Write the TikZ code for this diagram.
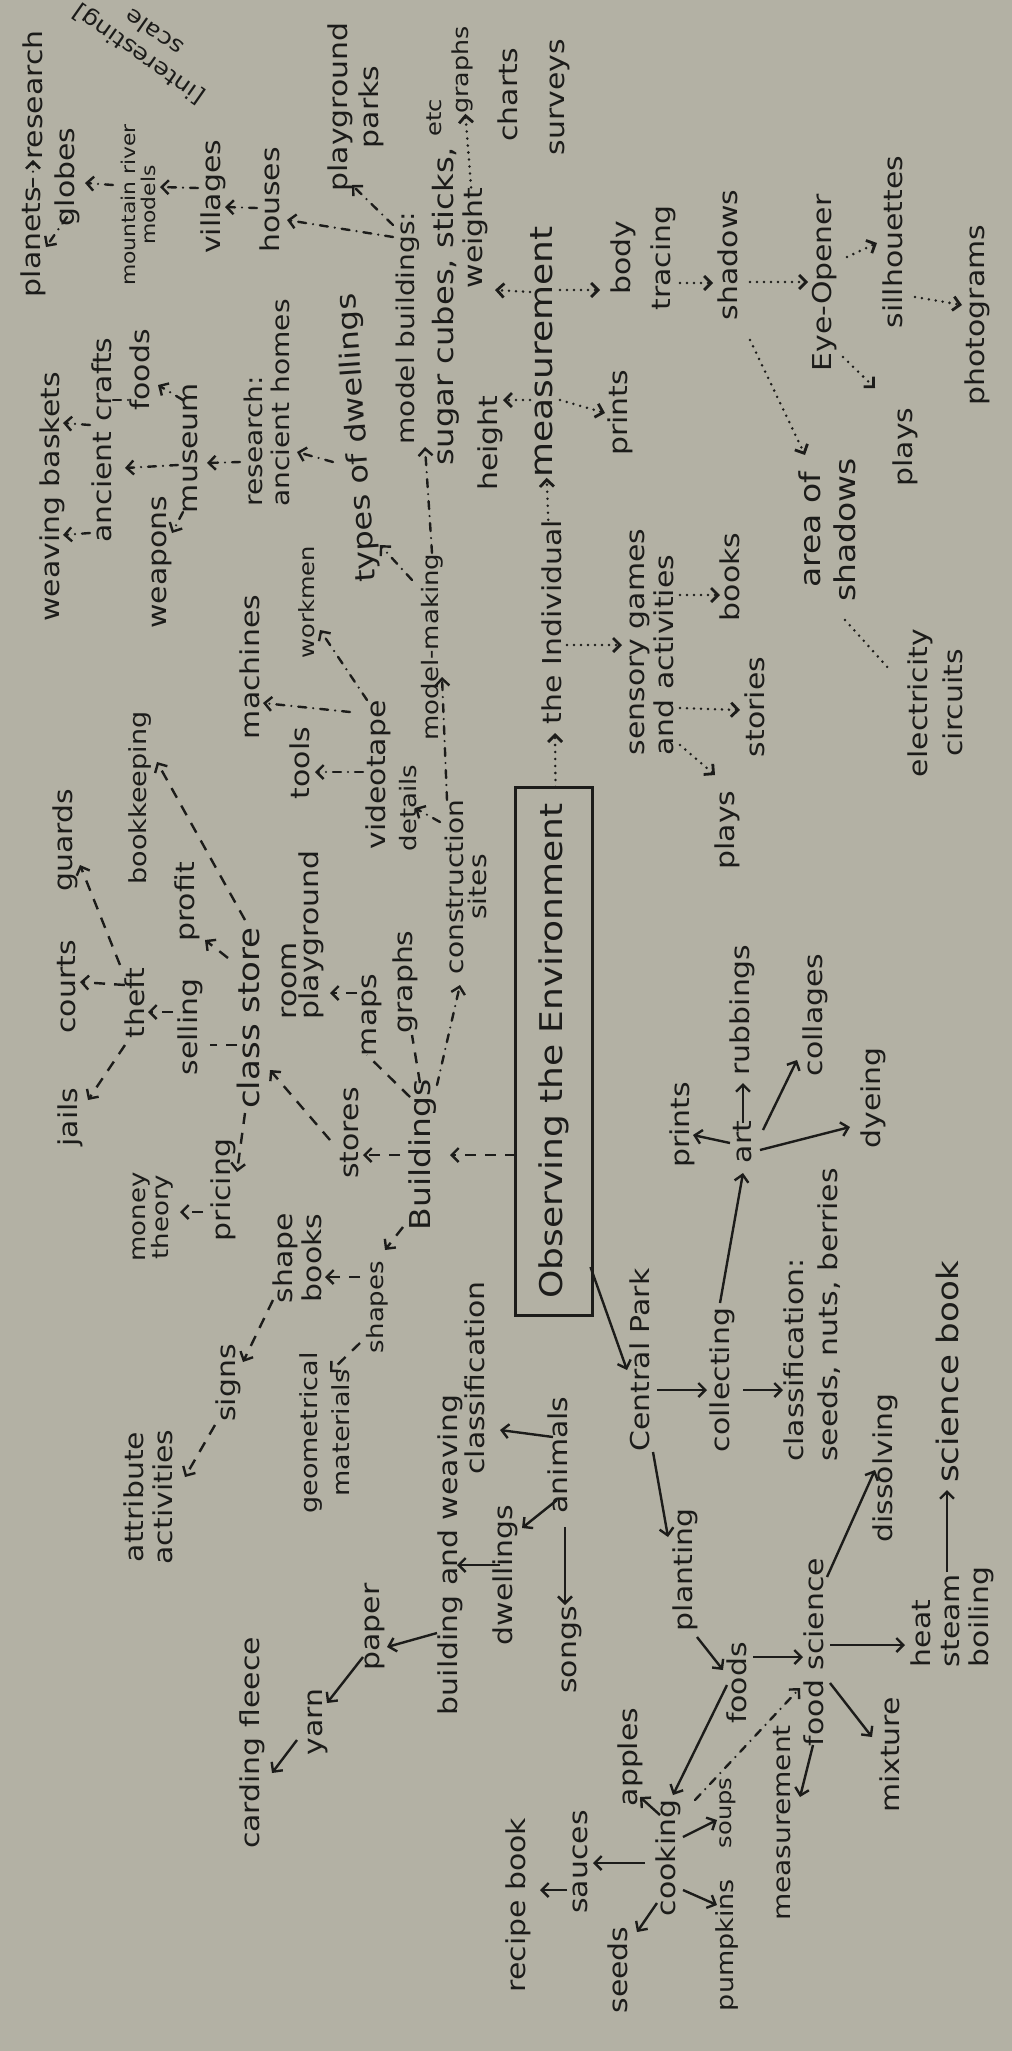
\documentclass[tikz,border=0pt]{standalone}
\usepackage{fontspec}
\setmainfont{DejaVu Sans}[FakeStretch=1.15]
\usetikzlibrary{arrows.meta,calc}
\definecolor{paper}{RGB}{179,177,164}
\definecolor{ink}{RGB}{28,28,26}
\begin{document}
\begin{tikzpicture}[x=1pt,y=-1pt,
  lb0/.style={inner sep=0pt,text=ink,font=\fontsize{26}{29}\selectfont,align=center},
  lb/.style={lb0,rotate=90},
  sz/.style={font=\fontsize{#1}{#1}\selectfont},
  con/.style={draw=ink,line width=2.4pt},
  arr/.style={-{Straight Barb[length=7pt,width=14pt]}},
  sol/.style={con},
  dsh/.style={con,dash pattern=on 11pt off 9pt},
  ddot/.style={con,line cap=round,dash pattern=on 8pt off 7pt on 0pt off 7pt},
  dots/.style={con,line width=2.8pt,line cap=round,dash pattern=on 0pt off 7pt},
]
\fill[paper] (0,0) rectangle (1012,2051);
\useasboundingbox (0,0) rectangle (1012,2051);

% ---------- models and research branch ----------
\node[lb] (research) at (33,95) {research};
\node[lb] (planets) at (33,242) {planets};
\node[lb0,rotate=145,font=\fontsize{22}{27}\selectfont] (interest) at (146,44) {[interesting]\\scale};
\node[lb] (globes) at (67,177) {globes};
\node[lb,font=\fontsize{19}{20}\selectfont] (models) at (138,205) {mountain river\\models};
\node[lb] (villages) at (213,197) {villages};
\node[lb] (houses) at (270,200) {houses};
\node[lb,font=\fontsize{26}{31}\selectfont] (parks) at (356,107) {playground\\parks};
\node[lb,sz=24.4] (mbuild) at (408,328) {model buildings:};
\node[lb,sz=28] (sugar) at (443,282) {sugar cubes, sticks, \raisebox{12pt}{\fontsize{21}{21}\selectfont etc}};
\node[lb,sz=22] (graphsA) at (462,70) {graphs};
\node[lb] (weight) at (475,238) {weight};
\node[lb] (charts) at (508,95) {charts};
\node[lb] (height) at (490,443) {height};
\node[lb] (surveys) at (560,97) {surveys};
\node[lb,sz=31.3] (measA) at (542,352) {measurement};
\node[lb] (indiv) at (552,622) {the Individual};
\node[lb] (printsB) at (620,413) {prints};
\node[lb,font=\fontsize{26}{40}\selectfont] (body) at (643,258) {body\\tracing};
\node[lb] (shadA) at (728,255) {shadows};
\node[lb] (eye) at (825,283) {Eye-Opener};
\node[lb] (silh) at (893,242) {sillhouettes};
\node[lb] (photo) at (977,315) {photograms};
\node[lb] (playsB) at (905,447) {plays};
\node[lb,font=\fontsize{28.7}{35}\selectfont] (area) at (827,530) {area of\\shadows};
\node[lb,font=\fontsize{26}{35}\selectfont] (elec) at (935,703) {electricity\\circuits};
\node[lb,align=left] (sensory) at (652,642) {sensory games\\and activities};
\node[lb] (books) at (730,577) {books};
\node[lb] (stories) at (755,707) {stories};
\node[lb] (playsA) at (727,830) {plays};

% ---------- museum branch ----------
\node[lb] (weaving) at (52,497) {weaving baskets};
\node[lb] (crafts) at (102,440) {ancient crafts};
\node[lb] (foodsA) at (140,370) {foods};
\node[lb] (museum) at (190,448) {museum};
\node[lb] (weapons) at (162,562) {weapons};
\node[lb,align=left,font=\fontsize{24.4}{27}\selectfont] (resB) at (267,403) {research:\\ancient homes};
\node[lb,rotate=4,sz=27.8] (types) at (358,438) {types of dwellings};

% ---------- store branch ----------
\node[lb,sz=23.5] (bookk) at (140,798) {bookkeeping};
\node[lb] (guards) at (65,840) {guards};
\node[lb] (courts) at (67,987) {courts};
\node[lb] (theft) at (135,1003) {theft};
\node[lb] (jails) at (70,1117) {jails};
\node[lb] (selling) at (190,1027) {selling};
\node[lb] (profit) at (187,902) {profit};
\node[lb,sz=29.6] (cstore) at (248,1018) {class store};
\node[lb] (pricing) at (223,1190) {pricing};
\node[lb,font=\fontsize{22.6}{23.5}\selectfont] (money) at (153,1217) {money\\theory};

% ---------- construction branch ----------
\node[lb] (machines) at (250,667) {machines};
\node[lb] (tools) at (300,763) {tools};
\node[lb,sz=21] (workmen) at (307,602) {workmen};
\node[lb,align=left,font=\fontsize{26}{22}\selectfont] (room) at (303,935) {room\\playground};
\node[lb] (video) at (378,775) {videotape};
\node[lb,sz=22.6] (details) at (408,808) {details};
\node[lb] (maps) at (372,1015) {maps};
\node[lb] (graphsB) at (405,982) {graphs};
\node[lb,font=\fontsize{24.4}{23}\selectfont] (constr) at (466,887) {construction\\sites};
\node[lb,sz=22.6] (mmaking) at (432,647) {model-making};
\node[lb,sz=28.7] (bldgs) at (423,1155) {Buildings};
\node[lb] (stores) at (350,1133) {stores};
\node[lb] (sbooks) at (297,1258) {shape\\books};
\node[lb,sz=22.6] (shapes) at (377,1307) {shapes};
\node[lb] (signs) at (228,1383) {signs};
\node[lb] (attr) at (148,1497) {attribute\\activities};
\node[lb,font=\fontsize{23.5}{32}\selectfont] (geom) at (325,1433) {geometrical\\materials};

% ---------- central topic ----------
\node[lb,draw=ink,line width=3pt,minimum width=528pt,minimum height=77pt,
      font=\fontsize{31.3}{35}\selectfont] (obs) at (553.5,1051) {Observing the Environment};

% ---------- weaving and animals ----------
\node[lb] (classA) at (475,1378) {classification};
\node[lb] (bldw) at (450,1555) {building and weaving};
\node[lb] (animals) at (558,1455) {animals};
\node[lb] (dwell) at (505,1575) {dwellings};
\node[lb] (songs) at (572,1650) {songs};
\node[lb] (paper) at (375,1627) {paper};
\node[lb] (yarn) at (318,1722) {yarn};
\node[lb] (carding) at (252,1743) {carding fleece};

% ---------- Central Park branch ----------
\node[lb] (central) at (640,1360) {Central Park};
\node[lb] (collect) at (722,1380) {collecting};
\node[lb,align=left,font=\fontsize{26}{34}\selectfont] (classB) at (812,1315) {classification:\\seeds, nuts, berries};
\node[lb] (art) at (743,1142) {art};
\node[lb] (printsA) at (682,1125) {prints};
\node[lb] (rubb) at (742,1010) {rubbings};
\node[lb] (coll) at (815,1015) {collages};
\node[lb] (dye) at (873,1098) {dyeing};
\node[lb,sz=29.6] (scibook) at (947,1372) {science book};
\node[lb] (dissolve) at (885,1468) {dissolving};
\node[lb] (planting) at (685,1570) {planting};
\node[lb] (foodsB) at (737,1683) {foods};
\node[lb] (fsci) at (814,1652) {food science};
\node[lb,sz=24.4] (measB) at (782,1823) {measurement};
\node[lb,align=left] (heat) at (952,1617) {heat\\steam\\boiling};
\node[lb] (mixture) at (890,1755) {mixture};
\node[lb] (cooking) at (668,1858) {cooking};
\node[lb] (apples) at (630,1757) {apples};
\node[lb] (sauces) at (580,1862) {sauces};
\node[lb] (recipe) at (518,1905) {recipe book};
\node[lb] (seeds) at (618,1970) {seeds};
\node[lb,sz=23.5] (pumpkins) at (727,1945) {pumpkins};
\node[lb,sz=21] (soups) at (728,1813) {soups};

% ---------- dash-dot links: models ----------
\draw[ddot,arr] (planets) -- (research);
\draw[ddot,arr] ($(globes)+(0,40)$) -- ($(planets)+(13,5)$);
\draw[ddot,arr] ($(models)+(-25,-20)$) -- ($(globes)+(18,6)$);
\draw[ddot,arr] ($(villages)+(-15,-9)$) -- ($(models)+(22,-18)$);
\draw[ddot,arr] ($(houses)+(-13,8)$) -- ($(villages)+(12,10)$);
\draw[ddot,arr] ($(mbuild)+(-15,-91)$) -- ($(houses)+(17,20)$);
\draw[ddot,arr] ($(mbuild)+(-15,-103)$) -- ($(parks)+(-4,78)$);
\draw[ddot,arr] ($(mmaking)+(0,-94)$) -- ($(mbuild)+(17,119)$);

% ---------- dotted links: the individual ----------
\draw[dots,arr] ($(measA)+(-12,-60)$) -- ($(weight)+(20,52)$);
\draw[dots,arr] ($(measA)+(-12,48)$) -- ($(height)+(13,-43)$);
\draw[dots,arr] (weight) -- (graphsA);
\draw[dots,arr] (indiv) -- (measA);
\draw[dots,arr] ($(measA)+(18,48)$) -- ($(printsB)+(-15,0)$);
\draw[dots,arr] ($(measA)+(18,-62)$) -- ($(body)+(-43,32)$);
\draw[dots,arr] ($(body)+(37,25)$) -- ($(shadA)+(-15,28)$);
\draw[dots,arr] ($(shadA)+(22,27)$) -- ($(eye)+(-17,-1)$);
\draw[dots,arr] ($(eye)+(22,-26)$) -- ($(silh)+(-16,1)$);
\draw[dots,arr] ($(silh)+(22,55)$) -- ($(photo)+(-15,-10)$);
\draw[dots,arr] ($(eye)+(18,74)$) -- ($(playsB)+(-30,-59)$);
\draw[dots,arr] ($(shadA)+(22,85)$) -- ($(area)+(-22,-75)$);
\draw[dots] ($(area)+(18,90)$) -- ($(elec)+(-45,-33)$);
\draw[dots,arr] ($(obs)+(2,-264)$) -- ($(indiv)+(3,111)$);
\draw[dots,arr] ($(indiv)+(15,23)$) -- ($(sensory)+(-30,3)$);
\draw[dots,arr] ($(sensory)+(28,-47)$) -- ($(books)+(-10,18)$);
\draw[dots,arr] ($(sensory)+(28,66)$) -- ($(stories)+(-15,3)$);
\draw[dots,arr] ($(sensory)+(28,103)$) -- ($(playsA)+(-12,-55)$);

% ---------- dash-dot links: museum ----------
\draw[ddot,arr] ($(crafts)+(-12,-15)$) -- ($(weaving)+(11,-74)$);
\draw[ddot,arr] ($(crafts)+(-12,93)$) -- ($(weaving)+(11,38)$);
\draw[ddot] ($(crafts)+(11,-40)$) -- ($(foodsA)+(-12,30)$);
\draw[ddot,arr] ($(museum)+(-12,17)$) -- ($(crafts)+(23,28)$);
\draw[ddot,arr] ($(museum)+(-7,-48)$) -- ($(foodsA)+(18,15)$);
\draw[ddot,arr] ($(museum)+(-7,64)$) -- ($(weapons)+(10,-29)$);
\draw[ddot,arr] ($(resB)+(-27,59)$) -- ($(museum)+(17,15)$);
\draw[ddot,arr] ($(types)+(-25,24)$) -- ($(resB)+(30,49)$);
\draw[ddot,arr] ($(mmaking)+(-20,-67)$) -- ($(types)+(22,107)$);

% ---------- dash-dot links: construction ----------
\draw[ddot,arr] ($(video)+(-15,-3)$) -- ($(tools)+(15,9)$);
\draw[ddot,arr] ($(video)+(-28,-63)$) -- ($(machines)+(13,36)$);
\draw[ddot,arr] ($(video)+(-11,-75)$) -- ($(workmen)+(13,28)$);
\draw[ddot,arr] ($(constr)+(-26,-65)$) -- ($(details)+(7,0)$);
\draw[ddot,arr] ($(constr)+(-19,-87)$) -- ($(mmaking)+(10,30)$);
\draw[ddot,arr] ($(bldgs)+(14,-70)$) -- ($(constr)+(-6,98)$);

% ---------- dashed links: buildings and store ----------
\draw[dsh,arr] ($(theft)+(-15,-38)$) -- ($(guards)+(15,25)$);
\draw[dsh,arr] ($(theft)+(-10,-18)$) -- ($(courts)+(13,-5)$);
\draw[dsh,arr] ($(theft)+(-10,42)$) -- ($(jails)+(18,-17)$);
\draw[dsh,arr] ($(selling)+(-17,-15)$) -- ($(theft)+(13,9)$);
\draw[dsh] ($(cstore)+(-11,27)$) -- ($(selling)+(20,18)$);
\draw[dsh,arr] ($(cstore)+(-20,-60)$) -- ($(profit)+(18,38)$);
\draw[dsh,arr] ($(cstore)+(-3,-98)$) -- ($(bookk)+(17,-36)$);
\draw[dsh,arr] ($(cstore)+(-3,95)$) -- ($(pricing)+(14,-18)$);
\draw[dsh,arr] ($(pricing)+(-20,22)$) -- ($(money)+(27,-5)$);
\draw[dsh,arr] ($(stores)+(-20,7)$) -- ($(cstore)+(22,52)$);
\draw[dsh,arr] ($(bldgs)+(-23,0)$) -- ($(stores)+(13,22)$);
\draw[dsh] ($(bldgs)+(-13,-58)$) -- ($(maps)+(-5,40)$);
\draw[dsh] ($(bldgs)+(-3,-72)$) -- ($(graphsB)+(7,53)$);
\draw[dsh,arr] ($(maps)+(-15,-22)$) -- ($(room)+(27,58)$);
\draw[dsh,arr] ($(obs)+(-38,104)$) -- ($(bldgs)+(27,0)$);
\draw[dsh,arr] ($(bldgs)+(-20,72)$) -- ($(shapes)+(8,-57)$);
\draw[dsh,arr] ($(shapes)+(-17,-30)$) -- ($(sbooks)+(28,19)$);
\draw[dsh,arr] ($(sbooks)+(-24,42)$) -- ($(signs)+(15,-21)$);
\draw[dsh,arr] ($(signs)+(-13,42)$) -- ($(attr)+(37,-20)$);
\draw[dsh,arr] ($(shapes)+(-17,36)$) -- ($(geom)+(5,-61)$);

% ---------- solid links: Central Park, animals, cooking ----------
\draw[sol,arr] ($(obs)+(37,216)$) -- ($(central)+(-13,10)$);
\draw[sol,arr] ($(central)+(17,30)$) -- ($(collect)+(-15,10)$);
\draw[sol,arr] ($(collect)+(21,10)$) -- ($(classB)+(-29,75)$);
\draw[sol,arr] ($(collect)+(-2,-77)$) -- ($(art)+(0,31)$);
\draw[sol,arr] ($(art)+(-13,1)$) -- ($(printsA)+(11,10)$);
\draw[sol,arr] ($(art)+(0,-19)$) -- ($(rubb)+(1,73)$);
\draw[sol,arr] ($(art)+(20,-12)$) -- ($(coll)+(-18,45)$);
\draw[sol,arr] ($(art)+(17,8)$) -- ($(dye)+(-23,29)$);
\draw[sol,arr] ($(central)+(13,92)$) -- ($(planting)+(-17,-33)$);
\draw[sol,arr] ($(animals)+(-5,-18)$) -- ($(classA)+(25,52)$);
\draw[sol,arr] ($(animals)+(-1,45)$) -- ($(dwell)+(17,-47)$);
\draw[sol,arr] ($(animals)+(7,72)$) -- ($(songs)+(-7,-45)$);
\draw[sol,arr] ($(dwell)+(-5,-10)$) -- ($(bldw)+(7,10)$);
\draw[sol,arr] ($(bldw)+(-13,78)$) -- ($(paper)+(12,20)$);
\draw[sol,arr] ($(paper)+(-12,30)$) -- ($(yarn)+(9,-19)$);
\draw[sol,arr] ($(yarn)+(-21,18)$) -- ($(carding)+(20,30)$);
\draw[sol,arr] ($(planting)+(12,67)$) -- ($(foodsB)+(-14,-13)$);
\draw[sol,arr] ($(foodsB)+(16,-26)$) -- ($(fsci)+(-11,5)$);
\draw[sol,arr] ($(foodsB)+(-10,2)$) -- ($(cooking)+(5,-63)$);
\draw[ddot,arr] ($(cooking)+(27,-58)$) -- ($(fsci)+(-14,36)$);
\draw[sol,arr] ($(fsci)+(-1,93)$) -- ($(measB)+(18,-26)$);
\draw[sol,arr] ($(fsci)+(16,-7)$) -- ($(heat)+(-47,28)$);
\draw[sol,arr] ($(fsci)+(16,31)$) -- ($(mixture)+(-18,-18)$);
\draw[sol,arr] ($(fsci)+(13,-75)$) -- ($(dissolve)+(-10,2)$);
\draw[sol,arr] ($(heat)+(-5,-45)$) -- ($(scibook)+(0,118)$);
\draw[sol,arr] ($(cooking)+(-8,-43)$) -- ($(apples)+(10,40)$);
\draw[sol,arr] ($(cooking)+(-23,5)$) -- ($(sauces)+(13,1)$);
\draw[sol,arr] ($(sauces)+(-13,28)$) -- ($(recipe)+(22,-15)$);
\draw[sol,arr] ($(cooking)+(-11,45)$) -- ($(seeds)+(19,-38)$);
\draw[sol,arr] ($(cooking)+(15,32)$) -- ($(pumpkins)+(-10,-40)$);
\draw[sol,arr] ($(cooking)+(15,-21)$) -- ($(soups)+(-11,7)$);
\end{tikzpicture}
\end{document}
